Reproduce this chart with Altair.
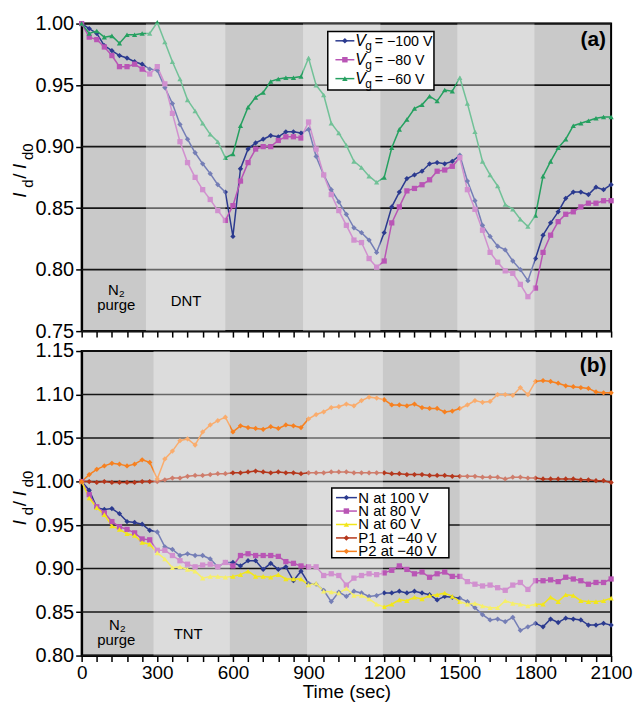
import altair as alt
import pandas as pd

FONT = "Liberation Sans"

# ---------------- data ----------------
time_s = [0, 30, 60, 90, 120, 150, 180, 210, 240, 270,
          300, 330, 360, 390, 420, 450, 480, 510, 540, 570,
          600, 630, 660, 690, 720, 750, 780, 810, 840, 870,
          900, 930, 960, 990, 1020, 1050, 1080, 1110, 1140, 1170,
          1200, 1230, 1260, 1290, 1320, 1350, 1380, 1410, 1440, 1470,
          1500, 1530, 1560, 1590, 1620, 1650, 1680, 1710, 1740, 1770,
          1800, 1830, 1860, 1890, 1920, 1950, 1980, 2010, 2040, 2070,
          2100]

a_names = ["Vg = −100 V", "Vg = −80 V", "Vg = −60 V"]
a_colors = ["#2b3a8f", "#b955b5", "#25a060"]
a_shapes = ["diamond", "square", "triangle-up"]

a_vg100 = [1.000, 0.996, 0.992, 0.982, 0.978, 0.974, 0.972, 0.969, 0.967, 0.963,
           0.962, 0.948, 0.935, 0.918, 0.906, 0.895, 0.886, 0.878, 0.869, 0.863,
           0.827, 0.882, 0.898, 0.903, 0.906, 0.909, 0.908, 0.912, 0.912, 0.911,
           0.914, 0.892, 0.877, 0.865, 0.855, 0.845, 0.834, 0.830, 0.824, 0.814,
           0.830, 0.851, 0.863, 0.874, 0.877, 0.880, 0.886, 0.887, 0.886, 0.888,
           0.893, 0.872, 0.856, 0.836, 0.827, 0.819, 0.816, 0.807, 0.800, 0.791,
           0.809, 0.828, 0.838, 0.847, 0.858, 0.863, 0.863, 0.861, 0.867, 0.865,
           0.869]
a_vg80 = [1.000, 0.989, 0.987, 0.981, 0.974, 0.965, 0.965, 0.967, 0.963, 0.959,
          0.965, 0.951, 0.927, 0.904, 0.887, 0.875, 0.865, 0.857, 0.848, 0.840,
          0.852, 0.872, 0.887, 0.898, 0.900, 0.900, 0.905, 0.908, 0.908, 0.907,
          0.920, 0.898, 0.877, 0.861, 0.848, 0.836, 0.824, 0.822, 0.809, 0.802,
          0.807, 0.838, 0.851, 0.864, 0.866, 0.869, 0.873, 0.880, 0.881, 0.884,
          0.891, 0.865, 0.849, 0.832, 0.814, 0.806, 0.799, 0.797, 0.788, 0.778,
          0.785, 0.814, 0.828, 0.839, 0.845, 0.847, 0.851, 0.854, 0.854, 0.856,
          0.856]
a_vg60 = [1.000, 0.992, 0.994, 0.989, 0.990, 0.984, 0.991, 0.991, 0.992, 0.992,
          1.001, 0.985, 0.969, 0.955, 0.938, 0.929, 0.919, 0.910, 0.904, 0.891,
          0.894, 0.917, 0.932, 0.940, 0.944, 0.953, 0.955, 0.956, 0.956, 0.957,
          0.972, 0.950, 0.942, 0.919, 0.911, 0.901, 0.888, 0.883, 0.876, 0.871,
          0.875, 0.899, 0.914, 0.922, 0.931, 0.934, 0.941, 0.937, 0.946, 0.945,
          0.956, 0.935, 0.912, 0.888, 0.877, 0.868, 0.853, 0.849, 0.841, 0.835,
          0.844, 0.876, 0.888, 0.899, 0.906, 0.917, 0.919, 0.921, 0.923, 0.924,
          0.924]

b_names = ["N at 100 V", "N at 80 V", "N at 60 V", "P1 at −40 V", "P2 at −40 V"]
b_colors = ["#2b3a8f", "#b955b5", "#f2e61a", "#b5371c", "#f7801f"]
b_shapes = ["diamond", "square", "triangle-up", "diamond", "diamond"]

b_n100 = [1.000, 0.990, 0.970, 0.968, 0.969, 0.963, 0.954, 0.953, 0.951, 0.944,
          0.942, 0.925, 0.922, 0.915, 0.917, 0.915, 0.915, 0.911, 0.902, 0.907,
          0.907, 0.903, 0.909, 0.909, 0.899, 0.906, 0.899, 0.902, 0.886, 0.897,
          0.883, 0.882, 0.875, 0.862, 0.873, 0.868, 0.874, 0.872, 0.868, 0.869,
          0.872, 0.872, 0.874, 0.872, 0.874, 0.872, 0.870, 0.864, 0.868, 0.867,
          0.866, 0.862, 0.855, 0.847, 0.841, 0.842, 0.839, 0.844, 0.829, 0.833,
          0.837, 0.833, 0.842, 0.838, 0.843, 0.842, 0.841, 0.835, 0.835, 0.837,
          0.835]
b_n80 = [1.000, 0.985, 0.971, 0.964, 0.954, 0.948, 0.945, 0.941, 0.934, 0.933,
         0.921, 0.921, 0.915, 0.909, 0.905, 0.902, 0.904, 0.905, 0.902, 0.907,
         0.903, 0.915, 0.917, 0.915, 0.915, 0.915, 0.914, 0.908, 0.906, 0.903,
         0.902, 0.902, 0.892, 0.894, 0.892, 0.881, 0.889, 0.892, 0.894, 0.893,
         0.895, 0.898, 0.903, 0.899, 0.894, 0.896, 0.890, 0.894, 0.896, 0.891,
         0.891, 0.885, 0.882, 0.880, 0.881, 0.878, 0.875, 0.881, 0.884, 0.876,
         0.886, 0.886, 0.887, 0.885, 0.890, 0.888, 0.886, 0.882, 0.884, 0.884,
         0.888]
b_n60 = [1.000, 0.981, 0.970, 0.962, 0.949, 0.945, 0.940, 0.938, 0.930, 0.928,
         0.918, 0.911, 0.901, 0.902, 0.899, 0.897, 0.889, 0.891, 0.891, 0.890,
         0.891, 0.893, 0.897, 0.891, 0.891, 0.890, 0.893, 0.888, 0.888, 0.888,
         0.881, 0.883, 0.874, 0.873, 0.872, 0.877, 0.869, 0.869, 0.865, 0.859,
         0.856, 0.859, 0.864, 0.863, 0.867, 0.865, 0.869, 0.870, 0.872, 0.868,
         0.862, 0.859, 0.860, 0.857, 0.855, 0.855, 0.863, 0.860, 0.859, 0.857,
         0.859, 0.859, 0.867, 0.862, 0.870, 0.869, 0.863, 0.862, 0.862, 0.863,
         0.866]
b_p1 = [1.000, 1.000, 0.999, 1.000, 0.999, 0.999, 0.999, 0.999, 1.000, 1.000,
        1.000, 1.002, 1.004, 1.004, 1.006, 1.007, 1.007, 1.008, 1.009, 1.009,
        1.010, 1.010, 1.011, 1.012, 1.011, 1.010, 1.011, 1.010, 1.010, 1.009,
        1.010, 1.010, 1.010, 1.011, 1.011, 1.011, 1.010, 1.010, 1.010, 1.010,
        1.010, 1.009, 1.009, 1.008, 1.008, 1.008, 1.007, 1.007, 1.007, 1.006,
        1.006, 1.006, 1.006, 1.005, 1.005, 1.005, 1.003, 1.005, 1.005, 1.004,
        1.004, 1.003, 1.003, 1.003, 1.003, 1.003, 1.002, 1.002, 1.001, 1.001,
        0.999]
b_p2 = [1.000, 1.008, 1.014, 1.018, 1.021, 1.020, 1.018, 1.020, 1.025, 1.022,
        1.003, 1.026, 1.035, 1.047, 1.049, 1.042, 1.057, 1.065, 1.070, 1.074,
        1.057, 1.064, 1.062, 1.061, 1.060, 1.063, 1.061, 1.065, 1.064, 1.062,
        1.072, 1.077, 1.080, 1.085, 1.086, 1.089, 1.087, 1.093, 1.097, 1.096,
        1.094, 1.088, 1.088, 1.087, 1.089, 1.085, 1.084, 1.084, 1.080, 1.081,
        1.084, 1.088, 1.093, 1.091, 1.092, 1.100, 1.100, 1.099, 1.108, 1.100,
        1.115, 1.116, 1.115, 1.113, 1.110, 1.109, 1.108, 1.107, 1.103, 1.102,
        1.102]

a_yticks = [0.75, 0.80, 0.85, 0.90, 0.95, 1.00]
b_yticks = [0.80, 0.85, 0.90, 0.95, 1.00, 1.05, 1.10, 1.15]
x_ticks = [0, 60, 120, 180, 240, 300, 360, 420, 480, 540, 600, 660, 720, 780,
           840, 900, 960, 1020, 1080, 1140, 1200, 1260, 1320, 1380, 1440, 1500,
           1560, 1620, 1680, 1740, 1800, 1860, 1920, 1980, 2040, 2100]

# lighter exposure bands (start, end) in seconds
a_band_start = [255, 878, 1490]
a_band_end = [570, 1185, 1796]
b_band_start = [285, 894, 1499]
b_band_end = [588, 1195, 1801]

W = 532
HA = 309
HB = 306


def text_layer(txt, x, y, size, style="normal", weight="normal", angle=0,
               align="left", baseline="alphabetic"):
    return alt.Chart(pd.DataFrame({"t": [txt]})).mark_text(
        font=FONT, fontSize=size, fontStyle=style, fontWeight=weight,
        angle=angle, align=align, baseline=baseline, color="black"
    ).encode(x=alt.value(x), y=alt.value(y), text="t:N")


def make_panel(names, series, colors, shapes, ydom, yticks, bstart, bend, h,
               bottom_labels, legend_box, legend_rows, legend_step, legend_kind,
               annotations, tag, tag_y):
    rows = []
    for n, vals in zip(names, series):
        for t, v in zip(time_s, vals):
            rows.append({"time": t, "value": v, "series": n})
    df = pd.DataFrame(rows)

    if bottom_labels:
        xaxis = alt.Axis(values=x_ticks, format="d", title="Time (sec)",
                         labelExpr="datum.value % 300 === 0 ? datum.label : ''",
                         labelOverlap=False, labelFlush=False, grid=False,
                         domainColor="black", domainWidth=2, tickColor="black",
                         tickWidth=1.5, tickSize=6, labelFont=FONT, labelFontSize=19,
                         labelColor="black", labelPadding=2, titleFont=FONT,
                         titleFontSize=19, titleFontWeight="normal", titleColor="black",
                         titlePadding=0)
    else:
        xaxis = alt.Axis(values=x_ticks, labels=False, title=None, grid=False,
                         domainColor="black", domainWidth=2, tickColor="black",
                         tickWidth=1.5, tickSize=6)
    yaxis = alt.Axis(values=yticks, format=".2f", title=None, grid=False,
                     labelOverlap=False, labelFlush=False,
                     domainColor="black", domainWidth=2, tickColor="black",
                     tickWidth=1.5, tickSize=6, labelFont=FONT, labelFontSize=20,
                     labelColor="black", labelPadding=2)
    xs = alt.Scale(domain=[0, 2100], nice=False, zero=False)
    ys = alt.Scale(domain=ydom, nice=False, zero=False)

    def X(f):
        return alt.X(f, scale=xs, axis=xaxis)

    def Y(f):
        return alt.Y(f, scale=ys, axis=yaxis)

    color = alt.Color("series:N", scale=alt.Scale(domain=names, range=colors), legend=None)
    shape = alt.Shape("series:N", scale=alt.Scale(domain=names, range=shapes), legend=None)

    grid = alt.Chart(pd.DataFrame({"tick": yticks})).mark_rule(
        color="#151515", strokeWidth=1.6).encode(y=Y("tick:Q"))
    lines = alt.Chart(df).mark_line(strokeWidth=1.5).encode(
        x=X("time:Q"), y=Y("value:Q"), color=color, detail="series:N")
    pts = alt.Chart(df).mark_point(filled=True, size=28, opacity=1).encode(
        x=X("time:Q"), y=Y("value:Q"), color=color, shape=shape)

    bands = alt.Chart(pd.DataFrame({"start": bstart, "end": bend})).mark_rect(
        fill="white", opacity=0.35).encode(
        x=X("start:Q"), x2="end:Q", y=alt.value(0), y2=alt.value(h))

    layers = [grid, lines, pts, bands]

    # legend
    x0, y0, x1, y1 = legend_box
    layers.append(alt.Chart(pd.DataFrame({"k": [0]})).mark_rect(
        fill="white", stroke="black", strokeWidth=1.5).encode(
        x=alt.value(x0), x2=alt.value(x1), y=alt.value(y0), y2=alt.value(y1)))
    lx0, lx1, mx, tx = legend_rows
    for i, (n, c, s) in enumerate(zip(names, colors, shapes)):
        ry = legend_step[0] + i * legend_step[1]
        layers.append(alt.Chart(pd.DataFrame({"k": [0]})).mark_rule(
            color=c, strokeWidth=1.5).encode(
            x=alt.value(lx0), x2=alt.value(lx1), y=alt.value(ry)))
        layers.append(alt.Chart(pd.DataFrame({"k": [0]})).mark_point(
            filled=True, shape=s, color=c, size=30, opacity=1).encode(
            x=alt.value(mx), y=alt.value(ry)))
        if legend_kind == "vg":
            layers.append(text_layer(n[0], tx, ry + 5.5, 16, style="italic"))
            layers.append(text_layer(n[1], tx + 10, ry + 9, 12))
            layers.append(text_layer(n[3:], tx + 19.5, ry + 5.5, 14.3))
        else:
            layers.append(text_layer(n, tx, ry + 5, 15))

    # y-axis title  I_d / I_d0 (rotated)
    for txt, xx, yy, sz, st in [("I", -55.5, 175, 19, "italic"),
                                ("d", -49, 165, 15, "normal"),
                                ("/", -55.5, 156, 19, "normal"),
                                ("I", -55.5, 146, 19, "italic"),
                                ("d0", -49, 137, 15, "normal")]:
        layers.append(text_layer(txt, xx, yy, sz, style=st, angle=270))

    for txt, xx, yy, sz, al in annotations:
        layers.append(text_layer(txt, xx, yy, sz, align=al))
    layers.append(text_layer(tag, W - 18, tag_y, 21, weight="bold",
                             align="center", baseline="middle"))

    return alt.layer(*layers).properties(width=W, height=h)


panel_a = make_panel(
    a_names, [a_vg100, a_vg80, a_vg60], a_colors, a_shapes, [0.75, 1.00], a_yticks,
    a_band_start, a_band_end, HA, False,
    (247.3, 8, 354, 66.7), (255, 274, 264.5, 275), (17.3, 19), "vg",
    [("N", 26.5, 273, 15, "left"), ("2", 37.5, 275, 10, "left"),
     ("purge", 34.8, 288, 15, "center"), ("DNT", 104.8, 284, 15, "center")],
    "(a)", 17)

panel_b = make_panel(
    b_names, [b_n100, b_n80, b_n60, b_p1, b_p2], b_colors, b_shapes, [0.80, 1.15],
    b_yticks, b_band_start, b_band_end, HB, True,
    (251.3, 137.7, 369, 207.7), (255.6, 276.6, 266, 278), (147.3, 13.5), "plain",
    [("N", 27.5, 280, 15, "left"), ("2", 38.5, 282, 10, "left"),
     ("purge", 34.8, 295, 15, "center"), ("TNT", 107, 289, 15, "center")],
    "(b)", 15)

chart = alt.vconcat(panel_a, panel_b, spacing=20, bounds="flush").resolve_scale(
    color="independent", shape="independent", x="independent", y="independent"
).properties(
    padding={"left": 2, "top": 3, "right": 0, "bottom": 0},
    background="white",
).configure_view(
    fill="#c9c9c9", stroke="black", strokeWidth=2
)

chart.save("out.html", embed_options={"renderer": "svg", "actions": False})
